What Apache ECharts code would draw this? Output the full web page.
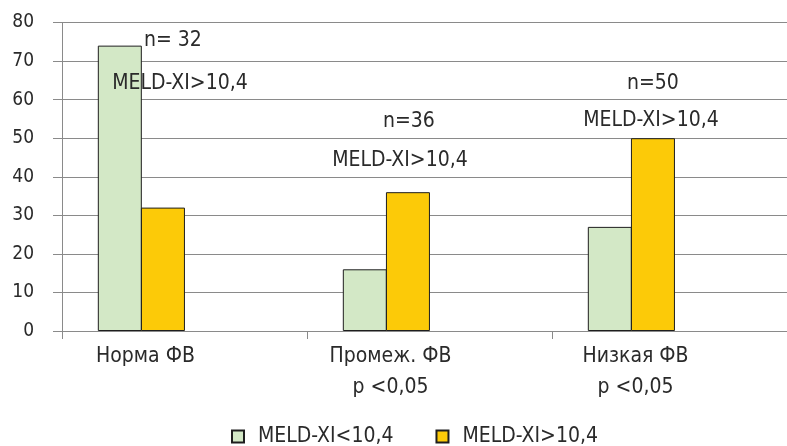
<!DOCTYPE html>
<html>
<head>
<meta charset="utf-8">
<script src="https://cdn.jsdelivr.net/npm/echarts@6/dist/echarts.min.js"></script>
<style>
  html, body { margin: 0; padding: 0; background: #fff; }
  #chart { width: 787px; height: 446px; }
</style>
</head>
<body>
<div id="chart"></div>
<script>
// Groups of patients by ejection fraction
const categories = ['Норма ФВ', 'Промеж. ФВ\np <0,05', 'Низкая ФВ\np <0,05'];
const seriesNames = ['MELD-XI<10,4', 'MELD-XI>10,4'];
const lowMeld = [74, 16, 27];
const highMeld = [32, 36, 50];
const yTicks = { min: 0, max: 80, step: 10 };

// Annotations above the groups: text, category index, height on the value axis,
// horizontal nudge (px) from the centre of the orange bar
const noteTexts = ['n= 32', 'MELD-XI>10,4', 'n=36', 'MELD-XI>10,4', 'n=50', 'MELD-XI>10,4'];
const noteCats = [0, 0, 1, 1, 2, 2];
const noteLevels = [75.2, 64.1, 54.3, 44.3, 64.2, 54.7];
const noteShift = [10, 17, 1, -8, 0, -2];

const FONT = '"Liberation Sans Narrow", "DejaVu Sans Condensed", "Arial Narrow", sans-serif';
const TXT = '#2a2a2a';
const GRID_C = '#8a8a8a';

const chart = echarts.init(document.getElementById('chart'), null, { renderer: 'canvas' });

const notes = noteTexts.map((t, i) => ({
  coord: [noteCats[i], noteLevels[i]],
  symbol: 'rect',
  symbolSize: 0,
  itemStyle: { color: 'rgba(0,0,0,0)' },
  label: {
    show: true,
    position: 'inside',
    formatter: t,
    offset: [noteShift[i], 0],
    color: TXT,
    fontFamily: FONT,
    fontSize: 21
  }
}));

const barBase = {
  type: 'bar',
  barWidth: 44,
  barGap: '-2%',
  itemStyle: { borderColor: '#1e1e1e', borderWidth: 1 }
};

chart.setOption({
  animation: false,
  textStyle: { fontFamily: FONT, color: TXT },
  grid: {
    left: 62, top: 22.5, width: 735, height: 308.5,
    containLabel: false,
    outerBoundsMode: 'none'
  },
  legend: {
    data: seriesNames,
    top: 421,
    left: 226,
    icon: 'rect',
    itemWidth: 12,
    itemHeight: 12,
    itemGap: 42,
    textStyle: { fontFamily: FONT, fontSize: 21, color: TXT, padding: [0, 0, 0, 9] }
  },
  xAxis: {
    type: 'category',
    data: categories,
    axisLine: { show: true, lineStyle: { color: GRID_C, width: 1 } },
    axisTick: { show: true, length: 8, interval: 0, lineStyle: { color: GRID_C } },
    axisLabel: {
      interval: 0,
      margin: 10,
      color: TXT,
      fontFamily: FONT,
      fontSize: 21,
      lineHeight: 31,
      padding: [0, 78, 0, 0]
    },
    splitLine: { show: false }
  },
  yAxis: {
    type: 'value',
    min: yTicks.min,
    max: yTicks.max,
    interval: yTicks.step,
    axisLine: { show: true, lineStyle: { color: GRID_C, width: 1 } },
    axisTick: { show: true, length: 9, lineStyle: { color: GRID_C } },
    axisLabel: { margin: 28, color: TXT, fontFamily: FONT, fontSize: 19 },
    splitLine: { show: true, lineStyle: { color: GRID_C, width: 1 } }
  },
  series: [
    Object.assign({}, barBase, {
      name: seriesNames[0],
      data: lowMeld,
      itemStyle: { color: '#d3e8c6', borderColor: '#1e1e1e', borderWidth: 1 }
    }),
    Object.assign({}, barBase, {
      name: seriesNames[1],
      data: highMeld,
      itemStyle: { color: '#fcca08', borderColor: '#1e1e1e', borderWidth: 1 },
      markPoint: { silent: true, data: notes }
    }),
    // two empty slots keep each pair on the left side of its group
    Object.assign({}, barBase, { name: 'slot3', data: ['-', '-', '-'], silent: true }),
    Object.assign({}, barBase, { name: 'slot4', data: ['-', '-', '-'], silent: true })
  ]
});
</script>
</body>
</html>
